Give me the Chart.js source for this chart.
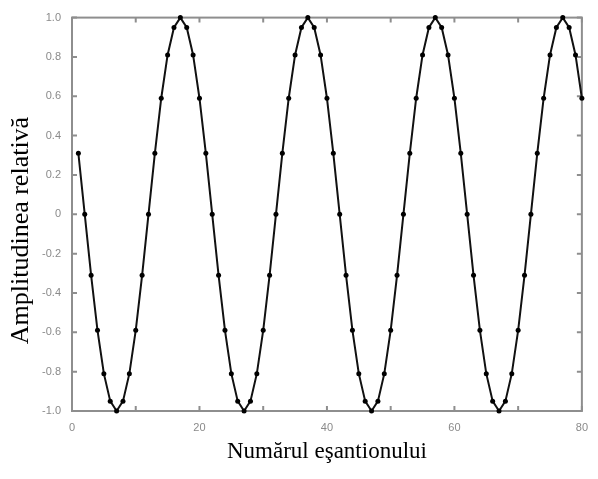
<!DOCTYPE html>
<html lang="ro">
<head>
<meta charset="UTF-8" />
<title>Amplitudinea relativă</title>
<script src="https://cdn.jsdelivr.net/npm/chart.js@4"></script>
<style>
  html, body { margin: 0; padding: 0; background: #fff; }
</style>
</head>
<body>
<canvas id="chart" width="598" height="479"></canvas>
<script>
  // numarul esantionului (1..80)
  const sampleIndex = [
    1, 2, 3, 4, 5, 6, 7, 8, 9, 10, 11, 12, 13, 14, 15, 16, 17, 18, 19, 20,
    21, 22, 23, 24, 25, 26, 27, 28, 29, 30, 31, 32, 33, 34, 35, 36, 37, 38, 39, 40,
    41, 42, 43, 44, 45, 46, 47, 48, 49, 50, 51, 52, 53, 54, 55, 56, 57, 58, 59, 60,
    61, 62, 63, 64, 65, 66, 67, 68, 69, 70, 71, 72, 73, 74, 75, 76, 77, 78, 79, 80
  ];
  // amplitudinea relativa a fiecarui esantion
  const amplitude = [
    0.31, 0, -0.31, -0.59, -0.81, -0.95, -1, -0.95, -0.81, -0.59, -0.31, 0, 0.31, 0.59, 0.81, 0.95, 1, 0.95, 0.81, 0.59,
    0.31, 0, -0.31, -0.59, -0.81, -0.95, -1, -0.95, -0.81, -0.59, -0.31, 0, 0.31, 0.59, 0.81, 0.95, 1, 0.95, 0.81, 0.59,
    0.31, 0, -0.31, -0.59, -0.81, -0.95, -1, -0.95, -0.81, -0.59, -0.31, 0, 0.31, 0.59, 0.81, 0.95, 1, 0.95, 0.81, 0.59,
    0.31, 0, -0.31, -0.59, -0.81, -0.95, -1, -0.95, -0.81, -0.59, -0.31, 0, 0.31, 0.59, 0.81, 0.95, 1, 0.95, 0.81, 0.59
  ];
  const xMin = 0, xMax = 80, xStep = 10, xLabelStep = 20;
  const yMin = -1, yMax = 1, yStep = 0.2;

  const points = sampleIndex.map((n, i) => ({ x: n, y: amplitude[i] }));

  // chenar gri cu gradatii spre interior, pe toate cele patru laturi
  const frame = {
    id: 'frame',
    beforeDatasetsDraw(chart) {
      const { ctx, chartArea: a, scales: { x, y } } = chart;
      const len = 5;
      ctx.save();
      ctx.strokeStyle = '#8e8e8e';
      ctx.lineWidth = 2;
      ctx.strokeRect(a.left, a.top, a.right - a.left, a.bottom - a.top);
      ctx.beginPath();
      x.ticks.forEach(t => {
        const px = x.getPixelForValue(t.value);
        ctx.moveTo(px, a.bottom); ctx.lineTo(px, a.bottom - len);
        ctx.moveTo(px, a.top); ctx.lineTo(px, a.top + len);
      });
      y.ticks.forEach(t => {
        const py = y.getPixelForValue(t.value);
        ctx.moveTo(a.left, py); ctx.lineTo(a.left + len, py);
        ctx.moveTo(a.right, py); ctx.lineTo(a.right - len, py);
      });
      ctx.stroke();
      ctx.restore();
    }
  };

  const tickFont = { family: 'Liberation Sans', size: 11 };

  new Chart(document.getElementById('chart'), {
    type: 'line',
    data: {
      datasets: [{
        data: points,
        borderColor: '#111',
        borderWidth: 2,
        pointRadius: 2.5,
        pointBackgroundColor: '#000',
        pointBorderColor: '#000',
        pointBorderWidth: 0,
        tension: 0,
        fill: false,
        clip: 6
      }]
    },
    options: {
      responsive: false,
      animation: false,
      devicePixelRatio: 1,
      layout: { padding: { top: 15, right: 15, left: 0, bottom: 0 } },
      plugins: { legend: { display: false }, tooltip: { enabled: false } },
      scales: {
        x: {
          type: 'linear',
          min: xMin,
          max: xMax,
          grid: { display: false, drawTicks: false },
          border: { display: false },
          ticks: {
            stepSize: xStep,
            padding: 10,
            color: '#8a8a8a',
            font: tickFont,
            maxRotation: 0,
            autoSkip: false,
            callback: v => (v % xLabelStep === 0 ? String(v) : '')
          },
          title: {
            display: true,
            text: 'Numărul eşantionului',
            color: '#000',
            font: { family: 'Liberation Serif', size: 23 },
            padding: { top: 0, bottom: 13 }
          },
          afterFit: s => { s.height = 68; }
        },
        y: {
          min: yMin,
          max: yMax,
          grid: { display: false, drawTicks: false },
          border: { display: false },
          ticks: {
            stepSize: yStep,
            padding: 11,
            color: '#8a8a8a',
            font: tickFont,
            callback: v => (Math.abs(v) < 1e-9 ? '0' : v.toFixed(1))
          },
          title: {
            display: true,
            // spatiile de la final coboara putin eticheta
            text: 'Amplitudinea relativă     ',
            color: '#000',
            font: { family: 'Liberation Serif', size: 26 },
            padding: { top: 6, bottom: 0 }
          },
          afterFit: s => { s.width = 72; }
        }
      }
    },
    plugins: [frame]
  });
</script>
</body>
</html>
